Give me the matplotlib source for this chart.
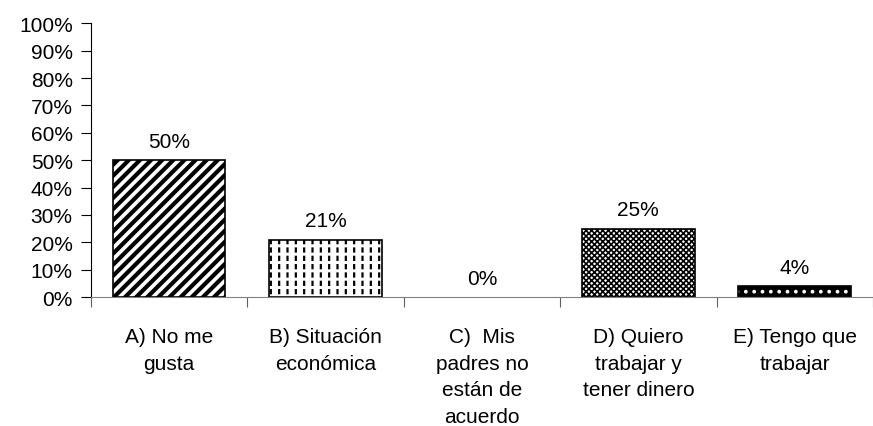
import numpy as np
import matplotlib
matplotlib.use("Agg")
import matplotlib.pyplot as plt
from matplotlib.ticker import PercentFormatter

plt.rcParams['font.family'] = ['Liberation Sans', 'DejaVu Sans']

categories = ["A) No me\ngusta", "B) Situación\neconómica", "C)  Mis\npadres no\nestán de\nacuerdo",
              "D) Quiero\ntrabajar y\ntener dinero", "E) Tengo que\ntrabajar"]
values = [50, 21, 0, 25, 4]
labels = ["50%", "21%", "0%", "25%", "4%"]

fig = plt.figure(figsize=(8.73, 4.27), dpi=100)
ax = fig.add_axes([0.104, 0.302, 0.896, 0.641])

x = np.arange(len(categories))
w = 0.72
fs = 15

# A: thick diagonal stripes
with plt.rc_context({'hatch.linewidth': 3.0}):
    ax.bar(x[0], values[0], w, facecolor="white", edgecolor="black", hatch="///", linewidth=0)
ax.bar(x[0], values[0], w, fill=False, edgecolor="black", linewidth=1.2)

# B: small vertical dashes -> vertical lines broken up by white horizontal lines
with plt.rc_context({'hatch.linewidth': 1.6}):
    ax.bar(x[1], values[1], w, facecolor="white", edgecolor="black", hatch="||", linewidth=0)
with plt.rc_context({'hatch.linewidth': 2.2}):
    ax.bar(x[1], values[1], w, fill=False, edgecolor="white", hatch="--", linewidth=0)
ax.bar(x[1], values[1], w, fill=False, edgecolor="black", linewidth=1.2)

# C: empty
ax.bar(x[2], values[2], w, facecolor="white", edgecolor="none")

# D: fine checkerboard
with plt.rc_context({'hatch.linewidth': 1.2}):
    ax.bar(x[3], values[3], w, facecolor="white", edgecolor="black", hatch="xxxxxx", linewidth=0)
ax.bar(x[3], values[3], w, fill=False, edgecolor="black", linewidth=1.2)

# E: black with white dots
with plt.rc_context({'hatch.linewidth': 1.5}):
    ax.bar(x[4], values[4], w, facecolor="black", edgecolor="white", hatch="..", linewidth=0)
ax.bar(x[4], values[4], w, fill=False, edgecolor="black", linewidth=1.2)

for xi, v, lab in zip(x, values, labels):
    ax.text(xi, v + 4.9, lab, ha="center", va="baseline", fontsize=fs)

ax.set_xlim(-0.5, len(categories) - 0.5)
ax.set_ylim(0, 100)
ax.set_yticks(np.arange(0, 101, 10))
ax.yaxis.set_major_formatter(PercentFormatter(decimals=0))
ax.tick_params(axis="y", labelsize=fs, length=7, width=0.8, direction="out", pad=6)

ax.set_xticks(np.arange(-0.5, len(categories), 1.0))
ax.set_xticklabels([])
ax.tick_params(axis="x", length=7, width=0.8, direction="out", color="#606060")
for xi, cat in zip(x, categories):
    ax.text(xi, -11, cat, ha="center", va="top", fontsize=fs, linespacing=1.5)

for s in ["top", "right"]:
    ax.spines[s].set_visible(False)
ax.spines["left"].set_linewidth(0.8)
ax.spines["bottom"].set_linewidth(0.8)
ax.spines["bottom"].set_color("#808080")

fig.savefig("out.png", dpi=100)
